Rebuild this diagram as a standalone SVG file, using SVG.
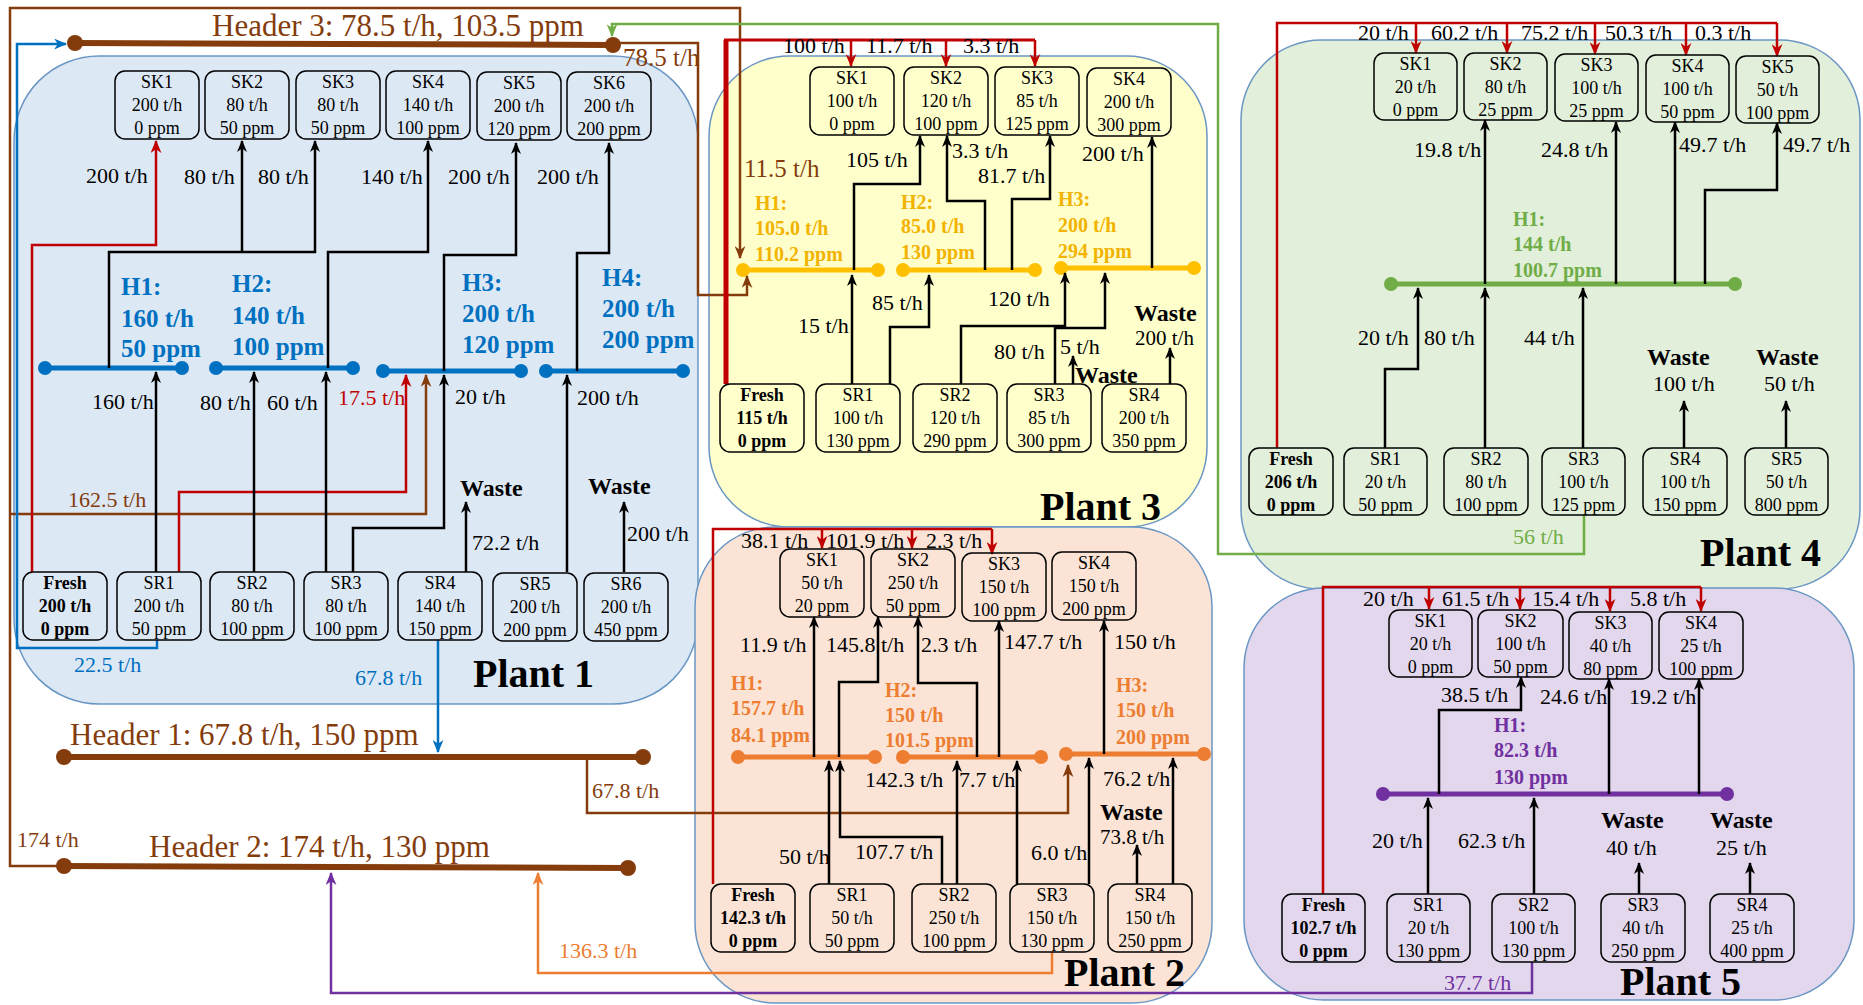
<svg xmlns="http://www.w3.org/2000/svg" width="1863" height="1005" viewBox="0 0 1863 1005">
<style>
.bx{fill:none;stroke:#000;stroke-width:1.5}
.bt{font-family:"Liberation Serif",serif;font-size:18px;text-anchor:middle;fill:#000}
.bb{font-weight:bold}
.fl{font-family:"Liberation Serif",serif;font-size:22px;fill:#000}
.ws{font-family:"Liberation Serif",serif;font-size:24px;font-weight:bold;fill:#000}
.pl{font-family:"Liberation Serif",serif;font-size:40px;font-weight:bold;fill:#000}
.hd{font-family:"Liberation Serif",serif;font-size:31px;fill:#843c0c}
.hl{font-family:"Liberation Serif",serif;font-weight:bold;font-size:20px}
.bub{stroke:#6a96c4;stroke-width:1.5}
.k{fill:none;stroke:#000;stroke-width:2.5;marker-end:url(#ak)}
.r{fill:none;stroke:#c00000;stroke-width:2.5}
.ra{marker-end:url(#ar)}
.br{fill:none;stroke:#843c0c;stroke-width:2.5}
.bra{marker-end:url(#abr)}
.bl{fill:none;stroke:#0070c0;stroke-width:2.5;marker-end:url(#abl)}
.gr{fill:none;stroke:#70ad47;stroke-width:2.5;marker-end:url(#agr)}
.or{fill:none;stroke:#ed7d31;stroke-width:2.5;marker-end:url(#aor)}
.pu{fill:none;stroke:#7030a0;stroke-width:2.5;marker-end:url(#apu)}
</style>
<defs>
<marker id="ak" viewBox="0 0 12 10" refX="11" refY="5" markerWidth="12" markerHeight="10" markerUnits="userSpaceOnUse" orient="auto"><path d="M0,0 L12,5 L0,10 L3.5,5 z" fill="#000"/></marker>
<marker id="ar" viewBox="0 0 12 10" refX="11" refY="5" markerWidth="13" markerHeight="11" markerUnits="userSpaceOnUse" orient="auto"><path d="M0,0 L12,5 L0,10 L3.5,5 z" fill="#c00000"/></marker>
<marker id="abr" viewBox="0 0 12 10" refX="11" refY="5" markerWidth="13" markerHeight="11" markerUnits="userSpaceOnUse" orient="auto"><path d="M0,0 L12,5 L0,10 L3.5,5 z" fill="#843c0c"/></marker>
<marker id="abl" viewBox="0 0 12 10" refX="11" refY="5" markerWidth="13" markerHeight="11" markerUnits="userSpaceOnUse" orient="auto"><path d="M0,0 L12,5 L0,10 L3.5,5 z" fill="#0070c0"/></marker>
<marker id="agr" viewBox="0 0 12 10" refX="11" refY="5" markerWidth="13" markerHeight="11" markerUnits="userSpaceOnUse" orient="auto"><path d="M0,0 L12,5 L0,10 L3.5,5 z" fill="#70ad47"/></marker>
<marker id="aor" viewBox="0 0 12 10" refX="11" refY="5" markerWidth="13" markerHeight="11" markerUnits="userSpaceOnUse" orient="auto"><path d="M0,0 L12,5 L0,10 L3.5,5 z" fill="#ed7d31"/></marker>
<marker id="apu" viewBox="0 0 12 10" refX="11" refY="5" markerWidth="13" markerHeight="11" markerUnits="userSpaceOnUse" orient="auto"><path d="M0,0 L12,5 L0,10 L3.5,5 z" fill="#7030a0"/></marker>
</defs>
<rect width="1863" height="1005" fill="#fff"/>

<!-- plant bubbles -->
<g id="plant1-bg"><rect class="bub" x="14" y="56" width="684" height="648" rx="85" fill="#dde8f5"/></g>
<g id="plant3-bg"><rect class="bub" x="709" y="56" width="498" height="471" rx="80" fill="#ffffcc"/></g>
<g id="plant2-bg"><rect class="bub" x="695" y="527" width="517" height="476" rx="80" fill="#fbe4d5"/></g>
<g id="plant4-bg"><rect class="bub" x="1241" y="40" width="619" height="549" rx="80" fill="#e2efda"/></g>
<g id="plant5-bg"><rect class="bub" x="1244" y="588" width="610" height="412" rx="80" fill="#e2d7ec"/></g>

<!-- global headers -->
<g id="header3">
<line x1="75" y1="43" x2="613" y2="45" stroke="#843c0c" stroke-width="6"/>
<circle cx="75" cy="43" r="8" fill="#843c0c"/><circle cx="613" cy="45" r="8" fill="#843c0c"/>
<text class="hd" x="212" y="36">Header 3: 78.5 t/h, 103.5 ppm</text>
</g>
<g id="header1">
<line x1="64" y1="757" x2="643" y2="757" stroke="#843c0c" stroke-width="6"/>
<circle cx="64" cy="757" r="8" fill="#843c0c"/><circle cx="643" cy="757" r="8" fill="#843c0c"/>
<text class="hd" x="70" y="745">Header 1: 67.8 t/h, 150 ppm</text>
</g>
<g id="header2">
<line x1="64" y1="866" x2="628" y2="868" stroke="#843c0c" stroke-width="6"/>
<circle cx="64" cy="866" r="8" fill="#843c0c"/><circle cx="628" cy="868" r="8" fill="#843c0c"/>
<text class="hd" x="149" y="857">Header 2: 174 t/h, 130 ppm</text>
</g>

<!-- plant headers -->
<g id="p1-headers" fill="#0070c0">
<line x1="45" y1="368" x2="182" y2="368" stroke="#0070c0" stroke-width="5"/><circle cx="45" cy="368" r="7"/><circle cx="182" cy="368" r="7"/>
<line x1="216" y1="368" x2="353" y2="368" stroke="#0070c0" stroke-width="5"/><circle cx="216" cy="368" r="7"/><circle cx="353" cy="368" r="7"/>
<line x1="383" y1="371" x2="521" y2="371" stroke="#0070c0" stroke-width="5"/><circle cx="383" cy="371" r="7"/><circle cx="521" cy="371" r="7"/>
<line x1="546" y1="371" x2="683" y2="371" stroke="#0070c0" stroke-width="5"/><circle cx="546" cy="371" r="7"/><circle cx="683" cy="371" r="7"/>
<g class="hl" style="font-size:25px">
<text x="121" y="295">H1:</text><text x="121" y="327">160 t/h</text><text x="121" y="357">50 ppm</text>
<text x="232" y="292">H2:</text><text x="232" y="324">140 t/h</text><text x="232" y="355">100 ppm</text>
<text x="462" y="291">H3:</text><text x="462" y="322">200 t/h</text><text x="462" y="353">120 ppm</text>
<text x="602" y="286">H4:</text><text x="602" y="317">200 t/h</text><text x="602" y="348">200 ppm</text>
</g>
</g>
<g id="p3-headers" fill="#ffc000">
<line x1="743" y1="270" x2="878" y2="270" stroke="#ffc000" stroke-width="5"/><circle cx="743" cy="270" r="7"/><circle cx="878" cy="270" r="7"/>
<line x1="903" y1="270" x2="1035" y2="270" stroke="#ffc000" stroke-width="5"/><circle cx="903" cy="270" r="7"/><circle cx="1035" cy="270" r="7"/>
<line x1="1061" y1="268" x2="1194" y2="268" stroke="#ffc000" stroke-width="5"/><circle cx="1061" cy="268" r="7"/><circle cx="1194" cy="268" r="7"/>
<g class="hl" fill="#f2b300">
<text x="755" y="210">H1:</text><text x="755" y="235">105.0 t/h</text><text x="755" y="261">110.2 ppm</text>
<text x="901" y="209">H2:</text><text x="901" y="233">85.0 t/h</text><text x="901" y="259">130 ppm</text>
<text x="1058" y="206">H3:</text><text x="1058" y="232">200 t/h</text><text x="1058" y="258">294 ppm</text>
</g>
</g>
<g id="p2-headers" fill="#ed7d31">
<line x1="738" y1="757" x2="875" y2="757" stroke="#ed7d31" stroke-width="5"/><circle cx="738" cy="757" r="7"/><circle cx="875" cy="757" r="7"/>
<line x1="903" y1="757" x2="1041" y2="757" stroke="#ed7d31" stroke-width="5"/><circle cx="903" cy="757" r="7"/><circle cx="1041" cy="757" r="7"/>
<line x1="1066" y1="754" x2="1204" y2="754" stroke="#ed7d31" stroke-width="5"/><circle cx="1066" cy="754" r="7"/><circle cx="1204" cy="754" r="7"/>
<g class="hl">
<text x="731" y="690">H1:</text><text x="731" y="715">157.7 t/h</text><text x="731" y="742">84.1 ppm</text>
<text x="885" y="697">H2:</text><text x="885" y="722">150 t/h</text><text x="885" y="747">101.5 ppm</text>
<text x="1116" y="692">H3:</text><text x="1116" y="717">150 t/h</text><text x="1116" y="744">200 ppm</text>
</g>
</g>
<g id="p4-header" fill="#70ad47">
<line x1="1391" y1="284" x2="1735" y2="284" stroke="#70ad47" stroke-width="5"/><circle cx="1391" cy="284" r="7"/><circle cx="1735" cy="284" r="7"/>
<g class="hl"><text x="1513" y="226">H1:</text><text x="1513" y="251">144 t/h</text><text x="1513" y="277">100.7 ppm</text></g>
</g>
<g id="p5-header" fill="#7030a0">
<line x1="1383" y1="794" x2="1727" y2="794" stroke="#7030a0" stroke-width="5"/><circle cx="1383" cy="794" r="7"/><circle cx="1727" cy="794" r="7"/>
<g class="hl"><text x="1494" y="732">H1:</text><text x="1494" y="757">82.3 t/h</text><text x="1494" y="784">130 ppm</text></g>
</g>

<!-- connectors -->
<g id="connectors">
<path class="br bra" d="M64,866 H10 V8 H740 V258"/>
<path class="br bra" d="M10,514 H426 V375"/>
<path class="br bra" d="M613,43 H698 V295 H747 V276"/>
<path class="br bra" d="M587,757 V813 H1068 V765"/>
<path class="bl" d="M157,640 V648 H17 V44 H66"/>
<path class="bl" d="M438,640 V752"/>
<path class="gr" d="M1584,515 V554 H1218 V24 H612 V36"/>
<path class="or" d="M1052,952 V973 H538 V873"/>
<path class="pu" d="M1532,962 V993 H331 V873"/>
<!-- plant 1 -->
<path class="r ra" d="M32,572 V245 H156 V141"/>
<path class="r ra" d="M179,572 V492 H406 V375"/>
<path class="k" d="M109,368 V252 H315 V141"/>
<path class="k" d="M242,252 V141"/>
<path class="k" d="M328,368 V252 H428 V141"/>
<path class="k" d="M444,371 V255 H516 V143"/>
<path class="k" d="M577,371 V253 H609 V143"/>
<path class="k" d="M156,572 V372"/>
<path class="k" d="M254,572 V372"/>
<path class="k" d="M326,572 V372"/>
<path class="k" d="M353,572 V528 H444 V375"/>
<path class="k" d="M466,572 V502"/>
<path class="k" d="M567,572 V375"/>
<path class="k" d="M624,572 V502"/>
<!-- plant 3 -->
<path d="M726,384 V40" fill="none" stroke="#c00000" stroke-width="5"/>
<path d="M724,40 H1035" fill="none" stroke="#c00000" stroke-width="3"/>
<path class="r ra" d="M851,40 V66"/><path class="r ra" d="M946,40 V66"/><path class="r ra" d="M1035,40 V66"/>
<path class="k" d="M852,384 V275"/>
<path class="k" d="M854,270 V184 H920 V136"/>
<path class="k" d="M985,270 V201 H947 V136"/>
<path class="k" d="M1012,270 V199 H1050 V136"/>
<path class="k" d="M1152,268 V137"/>
<path class="k" d="M890,384 V327 H929 V275"/>
<path class="k" d="M961,384 V326 H1065 V273"/>
<path class="k" d="M1055,384 V328 H1105 V273"/>
<path class="k" d="M1073,384 V356"/>
<path class="k" d="M1170,384 V348"/>
<!-- plant 2 -->
<path class="r" d="M713,884 V529 H992"/>
<path class="r ra" d="M822,529 V548"/><path class="r ra" d="M912,529 V548"/><path class="r ra" d="M992,529 V554"/>
<path class="k" d="M814,757 V617"/>
<path class="k" d="M839,757 V682 H878 V617"/>
<path class="k" d="M977,757 V683 H918 V617"/>
<path class="k" d="M999,757 V621"/>
<path class="k" d="M1104,754 V621"/>
<path class="k" d="M829,884 V761"/>
<path class="k" d="M942,884 V837 H840 V761"/>
<path class="k" d="M957,884 V761"/>
<path class="k" d="M1017,884 V761"/>
<path class="k" d="M1089,884 V758"/>
<path class="k" d="M1137,884 V845"/>
<path class="k" d="M1173,884 V758"/>
<!-- plant 4 -->
<path class="r" d="M1277,448 V23 H1777"/>
<path class="r ra" d="M1416,23 V53"/><path class="r ra" d="M1507,23 V53"/><path class="r ra" d="M1595,23 V54"/><path class="r ra" d="M1686,23 V55"/><path class="r ra" d="M1777,23 V56"/>
<path class="k" d="M1485,284 V120"/>
<path class="k" d="M1616,284 V122"/>
<path class="k" d="M1675,284 V122"/>
<path class="k" d="M1705,284 V190 H1777 V123"/>
<path class="k" d="M1385,448 V369 H1418 V288"/>
<path class="k" d="M1485,448 V288"/>
<path class="k" d="M1583,448 V288"/>
<path class="k" d="M1684,448 V401"/>
<path class="k" d="M1786,448 V401"/>
<!-- plant 5 -->
<path class="r" d="M1323,894 V587 H1701"/>
<path class="r ra" d="M1429,587 V609"/><path class="r ra" d="M1520,587 V609"/><path class="r ra" d="M1610,587 V611"/><path class="r ra" d="M1701,587 V611"/>
<path class="k" d="M1439,794 V710 H1521 V677"/>
<path class="k" d="M1609,794 V679"/>
<path class="k" d="M1699,794 V679"/>
<path class="k" d="M1428,894 V798"/>
<path class="k" d="M1534,894 V798"/>
<path class="k" d="M1639,894 V863"/>
<path class="k" d="M1750,894 V863"/>
</g>

<!-- connector labels -->
<g id="labels" class="fl">
<text x="623" y="66" fill="#843c0c" style="font-size:25px">78.5 t/h</text>
<text x="17" y="847" fill="#843c0c">174 t/h</text>
<text x="68" y="507" fill="#843c0c">162.5 t/h</text>
<text x="744" y="177" fill="#843c0c" style="font-size:25px">11.5 t/h</text>
<text x="592" y="798" fill="#843c0c">67.8 t/h</text>
<text x="74" y="672" fill="#0070c0">22.5 t/h</text>
<text x="355" y="685" fill="#0070c0">67.8 t/h</text>
<text x="559" y="958" fill="#ed7d31">136.3 t/h</text>
<text x="1444" y="990" fill="#7030a0">37.7 t/h</text>
<text x="1513" y="544" fill="#70ad47">56 t/h</text>
<!-- plant 1 -->
<text x="86" y="183">200 t/h</text><text x="184" y="184">80 t/h</text><text x="258" y="184">80 t/h</text>
<text x="361" y="184">140 t/h</text><text x="448" y="184">200 t/h</text><text x="537" y="184">200 t/h</text>
<text x="92" y="409">160 t/h</text><text x="200" y="410">80 t/h</text><text x="267" y="410">60 t/h</text>
<text x="338" y="405" fill="#c00000">17.5 t/h</text><text x="455" y="404">20 t/h</text>
<text x="472" y="550">72.2 t/h</text><text x="577" y="405">200 t/h</text><text x="627" y="541">200 t/h</text>
<!-- plant 3 -->
<text x="783" y="53">100 t/h</text><text x="866" y="53">11.7 t/h</text><text x="963" y="53">3.3 t/h</text>
<text x="798" y="333">15 t/h</text><text x="846" y="167">105 t/h</text><text x="952" y="158">3.3 t/h</text>
<text x="978" y="183">81.7 t/h</text><text x="1082" y="161">200 t/h</text><text x="872" y="310">85 t/h</text>
<text x="988" y="306">120 t/h</text><text x="994" y="359">80 t/h</text><text x="1060" y="354">5 t/h</text>
<text x="1135" y="345" style="font-size:21px">200 t/h</text>
<!-- plant 2 -->
<text x="741" y="548">38.1 t/h</text><text x="826" y="548">101.9 t/h</text><text x="926" y="548">2.3 t/h</text>
<text x="740" y="652">11.9 t/h</text><text x="826" y="652">145.8 t/h</text><text x="921" y="652">2.3 t/h</text>
<text x="1004" y="649">147.7 t/h</text><text x="1114" y="649">150 t/h</text>
<text x="779" y="864">50 t/h</text><text x="855" y="859">107.7 t/h</text><text x="865" y="787">142.3 t/h</text>
<text x="959" y="787">7.7 t/h</text><text x="1031" y="860">6.0 t/h</text><text x="1103" y="786">76.2 t/h</text>
<text x="1100" y="844" style="font-size:21px">73.8 t/h</text>
<!-- plant 4 -->
<text x="1358" y="40">20 t/h</text><text x="1431" y="40">60.2 t/h</text><text x="1521" y="40">75.2 t/h</text>
<text x="1605" y="40">50.3 t/h</text><text x="1695" y="40">0.3 t/h</text>
<text x="1414" y="157">19.8 t/h</text><text x="1541" y="157">24.8 t/h</text><text x="1679" y="152">49.7 t/h</text>
<text x="1783" y="152">49.7 t/h</text><text x="1358" y="345">20 t/h</text><text x="1424" y="345">80 t/h</text>
<text x="1524" y="345">44 t/h</text><text x="1653" y="391">100 t/h</text><text x="1764" y="391">50 t/h</text>
<!-- plant 5 -->
<text x="1363" y="606">20 t/h</text><text x="1442" y="606">61.5 t/h</text><text x="1532" y="606">15.4 t/h</text>
<text x="1630" y="606">5.8 t/h</text>
<text x="1441" y="702">38.5 t/h</text><text x="1540" y="704">24.6 t/h</text><text x="1629" y="704">19.2 t/h</text>
<text x="1372" y="848">20 t/h</text><text x="1458" y="848">62.3 t/h</text>
<text x="1606" y="855">40 t/h</text><text x="1716" y="855">25 t/h</text>
</g>
<g id="waste-labels" class="ws">
<text x="460" y="496">Waste</text><text x="588" y="494">Waste</text>
<text x="1075" y="383">Waste</text><text x="1134" y="321">Waste</text>
<text x="1100" y="820">Waste</text>
<text x="1647" y="365">Waste</text><text x="1756" y="365">Waste</text>
<text x="1601" y="828">Waste</text><text x="1710" y="828">Waste</text>
</g>
<g id="plant-titles" class="pl">
<text x="473" y="687">Plant 1</text><text x="1040" y="520">Plant 3</text><text x="1064" y="986">Plant 2</text>
<text x="1700" y="566">Plant 4</text><text x="1620" y="995">Plant 5</text>
</g>

<!-- Plant 1 nodes -->
<g id="p1-sk1"><rect class="bx" x="115" y="71" width="84" height="68" rx="10"/><text class="bt" x="157" y="88">SK1</text><text class="bt" x="157" y="111">200 t/h</text><text class="bt" x="157" y="134">0 ppm</text></g>
<g id="p1-sk2"><rect class="bx" x="205" y="71" width="84" height="68" rx="10"/><text class="bt" x="247" y="88">SK2</text><text class="bt" x="247" y="111">80 t/h</text><text class="bt" x="247" y="134">50 ppm</text></g>
<g id="p1-sk3"><rect class="bx" x="296" y="71" width="84" height="68" rx="10"/><text class="bt" x="338" y="88">SK3</text><text class="bt" x="338" y="111">80 t/h</text><text class="bt" x="338" y="134">50 ppm</text></g>
<g id="p1-sk4"><rect class="bx" x="386" y="71" width="84" height="68" rx="10"/><text class="bt" x="428" y="88">SK4</text><text class="bt" x="428" y="111">140 t/h</text><text class="bt" x="428" y="134">100 ppm</text></g>
<g id="p1-sk5"><rect class="bx" x="477" y="72" width="84" height="68" rx="10"/><text class="bt" x="519" y="89">SK5</text><text class="bt" x="519" y="112">200 t/h</text><text class="bt" x="519" y="135">120 ppm</text></g>
<g id="p1-sk6"><rect class="bx" x="567" y="72" width="84" height="68" rx="10"/><text class="bt" x="609" y="89">SK6</text><text class="bt" x="609" y="112">200 t/h</text><text class="bt" x="609" y="135">200 ppm</text></g>
<g id="p1-fresh"><rect class="bx" x="23" y="572" width="84" height="68" rx="10"/><text class="bt bb" x="65" y="589">Fresh</text><text class="bt bb" x="65" y="612">200 t/h</text><text class="bt bb" x="65" y="635">0 ppm</text></g>
<g id="p1-sr1"><rect class="bx" x="117" y="572" width="84" height="68" rx="10"/><text class="bt" x="159" y="589">SR1</text><text class="bt" x="159" y="612">200 t/h</text><text class="bt" x="159" y="635">50 ppm</text></g>
<g id="p1-sr2"><rect class="bx" x="210" y="572" width="84" height="68" rx="10"/><text class="bt" x="252" y="589">SR2</text><text class="bt" x="252" y="612">80 t/h</text><text class="bt" x="252" y="635">100 ppm</text></g>
<g id="p1-sr3"><rect class="bx" x="304" y="572" width="84" height="68" rx="10"/><text class="bt" x="346" y="589">SR3</text><text class="bt" x="346" y="612">80 t/h</text><text class="bt" x="346" y="635">100 ppm</text></g>
<g id="p1-sr4"><rect class="bx" x="398" y="572" width="84" height="68" rx="10"/><text class="bt" x="440" y="589">SR4</text><text class="bt" x="440" y="612">140 t/h</text><text class="bt" x="440" y="635">150 ppm</text></g>
<g id="p1-sr5"><rect class="bx" x="493" y="573" width="84" height="68" rx="10"/><text class="bt" x="535" y="590">SR5</text><text class="bt" x="535" y="613">200 t/h</text><text class="bt" x="535" y="636">200 ppm</text></g>
<g id="p1-sr6"><rect class="bx" x="584" y="573" width="84" height="68" rx="10"/><text class="bt" x="626" y="590">SR6</text><text class="bt" x="626" y="613">200 t/h</text><text class="bt" x="626" y="636">450 ppm</text></g>

<!-- Plant 3 nodes -->
<g id="p3-sk1"><rect class="bx" x="810" y="67" width="84" height="68" rx="10"/><text class="bt" x="852" y="84">SK1</text><text class="bt" x="852" y="107">100 t/h</text><text class="bt" x="852" y="130">0 ppm</text></g>
<g id="p3-sk2"><rect class="bx" x="904" y="67" width="84" height="68" rx="10"/><text class="bt" x="946" y="84">SK2</text><text class="bt" x="946" y="107">120 t/h</text><text class="bt" x="946" y="130">100 ppm</text></g>
<g id="p3-sk3"><rect class="bx" x="995" y="67" width="84" height="68" rx="10"/><text class="bt" x="1037" y="84">SK3</text><text class="bt" x="1037" y="107">85 t/h</text><text class="bt" x="1037" y="130">125 ppm</text></g>
<g id="p3-sk4"><rect class="bx" x="1087" y="68" width="84" height="68" rx="10"/><text class="bt" x="1129" y="85">SK4</text><text class="bt" x="1129" y="108">200 t/h</text><text class="bt" x="1129" y="131">300 ppm</text></g>
<g id="p3-fresh"><rect class="bx" x="720" y="384" width="84" height="68" rx="10"/><text class="bt bb" x="762" y="401">Fresh</text><text class="bt bb" x="762" y="424">115 t/h</text><text class="bt bb" x="762" y="447">0 ppm</text></g>
<g id="p3-sr1"><rect class="bx" x="816" y="384" width="84" height="68" rx="10"/><text class="bt" x="858" y="401">SR1</text><text class="bt" x="858" y="424">100 t/h</text><text class="bt" x="858" y="447">130 ppm</text></g>
<g id="p3-sr2"><rect class="bx" x="913" y="384" width="84" height="68" rx="10"/><text class="bt" x="955" y="401">SR2</text><text class="bt" x="955" y="424">120 t/h</text><text class="bt" x="955" y="447">290 ppm</text></g>
<g id="p3-sr3"><rect class="bx" x="1007" y="384" width="84" height="68" rx="10"/><text class="bt" x="1049" y="401">SR3</text><text class="bt" x="1049" y="424">85 t/h</text><text class="bt" x="1049" y="447">300 ppm</text></g>
<g id="p3-sr4"><rect class="bx" x="1102" y="384" width="84" height="68" rx="10"/><text class="bt" x="1144" y="401">SR4</text><text class="bt" x="1144" y="424">200 t/h</text><text class="bt" x="1144" y="447">350 ppm</text></g>

<!-- Plant 2 nodes -->
<g id="p2-sk1"><rect class="bx" x="780" y="549" width="84" height="68" rx="10"/><text class="bt" x="822" y="566">SK1</text><text class="bt" x="822" y="589">50 t/h</text><text class="bt" x="822" y="612">20 ppm</text></g>
<g id="p2-sk2"><rect class="bx" x="871" y="549" width="84" height="68" rx="10"/><text class="bt" x="913" y="566">SK2</text><text class="bt" x="913" y="589">250 t/h</text><text class="bt" x="913" y="612">50 ppm</text></g>
<g id="p2-sk3"><rect class="bx" x="962" y="553" width="84" height="68" rx="10"/><text class="bt" x="1004" y="570">SK3</text><text class="bt" x="1004" y="593">150 t/h</text><text class="bt" x="1004" y="616">100 ppm</text></g>
<g id="p2-sk4"><rect class="bx" x="1052" y="552" width="84" height="68" rx="10"/><text class="bt" x="1094" y="569">SK4</text><text class="bt" x="1094" y="592">150 t/h</text><text class="bt" x="1094" y="615">200 ppm</text></g>
<g id="p2-fresh"><rect class="bx" x="711" y="884" width="84" height="68" rx="10"/><text class="bt bb" x="753" y="901">Fresh</text><text class="bt bb" x="753" y="924">142.3 t/h</text><text class="bt bb" x="753" y="947">0 ppm</text></g>
<g id="p2-sr1"><rect class="bx" x="810" y="884" width="84" height="68" rx="10"/><text class="bt" x="852" y="901">SR1</text><text class="bt" x="852" y="924">50 t/h</text><text class="bt" x="852" y="947">50 ppm</text></g>
<g id="p2-sr2"><rect class="bx" x="912" y="884" width="84" height="68" rx="10"/><text class="bt" x="954" y="901">SR2</text><text class="bt" x="954" y="924">250 t/h</text><text class="bt" x="954" y="947">100 ppm</text></g>
<g id="p2-sr3"><rect class="bx" x="1010" y="884" width="84" height="68" rx="10"/><text class="bt" x="1052" y="901">SR3</text><text class="bt" x="1052" y="924">150 t/h</text><text class="bt" x="1052" y="947">130 ppm</text></g>
<g id="p2-sr4"><rect class="bx" x="1108" y="884" width="84" height="68" rx="10"/><text class="bt" x="1150" y="901">SR4</text><text class="bt" x="1150" y="924">150 t/h</text><text class="bt" x="1150" y="947">250 ppm</text></g>

<!-- Plant 4 nodes -->
<g id="p4-sk1"><rect class="bx" x="1374" y="53" width="83" height="67" rx="10"/><text class="bt" x="1415.5" y="70">SK1</text><text class="bt" x="1415.5" y="93">20 t/h</text><text class="bt" x="1415.5" y="116">0 ppm</text></g>
<g id="p4-sk2"><rect class="bx" x="1464" y="53" width="83" height="67" rx="10"/><text class="bt" x="1505.5" y="70">SK2</text><text class="bt" x="1505.5" y="93">80 t/h</text><text class="bt" x="1505.5" y="116">25 ppm</text></g>
<g id="p4-sk3"><rect class="bx" x="1555" y="54" width="83" height="67" rx="10"/><text class="bt" x="1596.5" y="71">SK3</text><text class="bt" x="1596.5" y="94">100 t/h</text><text class="bt" x="1596.5" y="117">25 ppm</text></g>
<g id="p4-sk4"><rect class="bx" x="1646" y="55" width="83" height="67" rx="10"/><text class="bt" x="1687.5" y="72">SK4</text><text class="bt" x="1687.5" y="95">100 t/h</text><text class="bt" x="1687.5" y="118">50 ppm</text></g>
<g id="p4-sk5"><rect class="bx" x="1736" y="56" width="83" height="67" rx="10"/><text class="bt" x="1777.5" y="73">SK5</text><text class="bt" x="1777.5" y="96">50 t/h</text><text class="bt" x="1777.5" y="119">100 ppm</text></g>
<g id="p4-fresh"><rect class="bx" x="1249" y="448" width="84" height="67" rx="10"/><text class="bt bb" x="1291" y="465">Fresh</text><text class="bt bb" x="1291" y="488">206 t/h</text><text class="bt bb" x="1291" y="511">0 ppm</text></g>
<g id="p4-sr1"><rect class="bx" x="1344" y="448" width="83" height="67" rx="10"/><text class="bt" x="1385.5" y="465">SR1</text><text class="bt" x="1385.5" y="488">20 t/h</text><text class="bt" x="1385.5" y="511">50 ppm</text></g>
<g id="p4-sr2"><rect class="bx" x="1444" y="448" width="84" height="67" rx="10"/><text class="bt" x="1486" y="465">SR2</text><text class="bt" x="1486" y="488">80 t/h</text><text class="bt" x="1486" y="511">100 ppm</text></g>
<g id="p4-sr3"><rect class="bx" x="1542" y="448" width="83" height="67" rx="10"/><text class="bt" x="1583.5" y="465">SR3</text><text class="bt" x="1583.5" y="488">100 t/h</text><text class="bt" x="1583.5" y="511">125 ppm</text></g>
<g id="p4-sr4"><rect class="bx" x="1643" y="448" width="84" height="67" rx="10"/><text class="bt" x="1685" y="465">SR4</text><text class="bt" x="1685" y="488">100 t/h</text><text class="bt" x="1685" y="511">150 ppm</text></g>
<g id="p4-sr5"><rect class="bx" x="1745" y="448" width="83" height="67" rx="10"/><text class="bt" x="1786.5" y="465">SR5</text><text class="bt" x="1786.5" y="488">50 t/h</text><text class="bt" x="1786.5" y="511">800 ppm</text></g>

<!-- Plant 5 nodes -->
<g id="p5-sk1"><rect class="bx" x="1389" y="610" width="83" height="67" rx="10"/><text class="bt" x="1430.5" y="627">SK1</text><text class="bt" x="1430.5" y="650">20 t/h</text><text class="bt" x="1430.5" y="673">0 ppm</text></g>
<g id="p5-sk2"><rect class="bx" x="1478" y="610" width="85" height="67" rx="10"/><text class="bt" x="1520.5" y="627">SK2</text><text class="bt" x="1520.5" y="650">100 t/h</text><text class="bt" x="1520.5" y="673">50 ppm</text></g>
<g id="p5-sk3"><rect class="bx" x="1569" y="612" width="83" height="67" rx="10"/><text class="bt" x="1610.5" y="629">SK3</text><text class="bt" x="1610.5" y="652">40 t/h</text><text class="bt" x="1610.5" y="675">80 ppm</text></g>
<g id="p5-sk4"><rect class="bx" x="1659" y="612" width="84" height="67" rx="10"/><text class="bt" x="1701" y="629">SK4</text><text class="bt" x="1701" y="652">25 t/h</text><text class="bt" x="1701" y="675">100 ppm</text></g>
<g id="p5-fresh"><rect class="bx" x="1282" y="894" width="83" height="68" rx="10"/><text class="bt bb" x="1323.5" y="911">Fresh</text><text class="bt bb" x="1323.5" y="934">102.7 t/h</text><text class="bt bb" x="1323.5" y="957">0 ppm</text></g>
<g id="p5-sr1"><rect class="bx" x="1387" y="894" width="83" height="68" rx="10"/><text class="bt" x="1428.5" y="911">SR1</text><text class="bt" x="1428.5" y="934">20 t/h</text><text class="bt" x="1428.5" y="957">130 ppm</text></g>
<g id="p5-sr2"><rect class="bx" x="1492" y="894" width="83" height="68" rx="10"/><text class="bt" x="1533.5" y="911">SR2</text><text class="bt" x="1533.5" y="934">100 t/h</text><text class="bt" x="1533.5" y="957">130 ppm</text></g>
<g id="p5-sr3"><rect class="bx" x="1601" y="894" width="84" height="68" rx="10"/><text class="bt" x="1643" y="911">SR3</text><text class="bt" x="1643" y="934">40 t/h</text><text class="bt" x="1643" y="957">250 ppm</text></g>
<g id="p5-sr4"><rect class="bx" x="1710" y="894" width="84" height="68" rx="10"/><text class="bt" x="1752" y="911">SR4</text><text class="bt" x="1752" y="934">25 t/h</text><text class="bt" x="1752" y="957">400 ppm</text></g>
</svg>
